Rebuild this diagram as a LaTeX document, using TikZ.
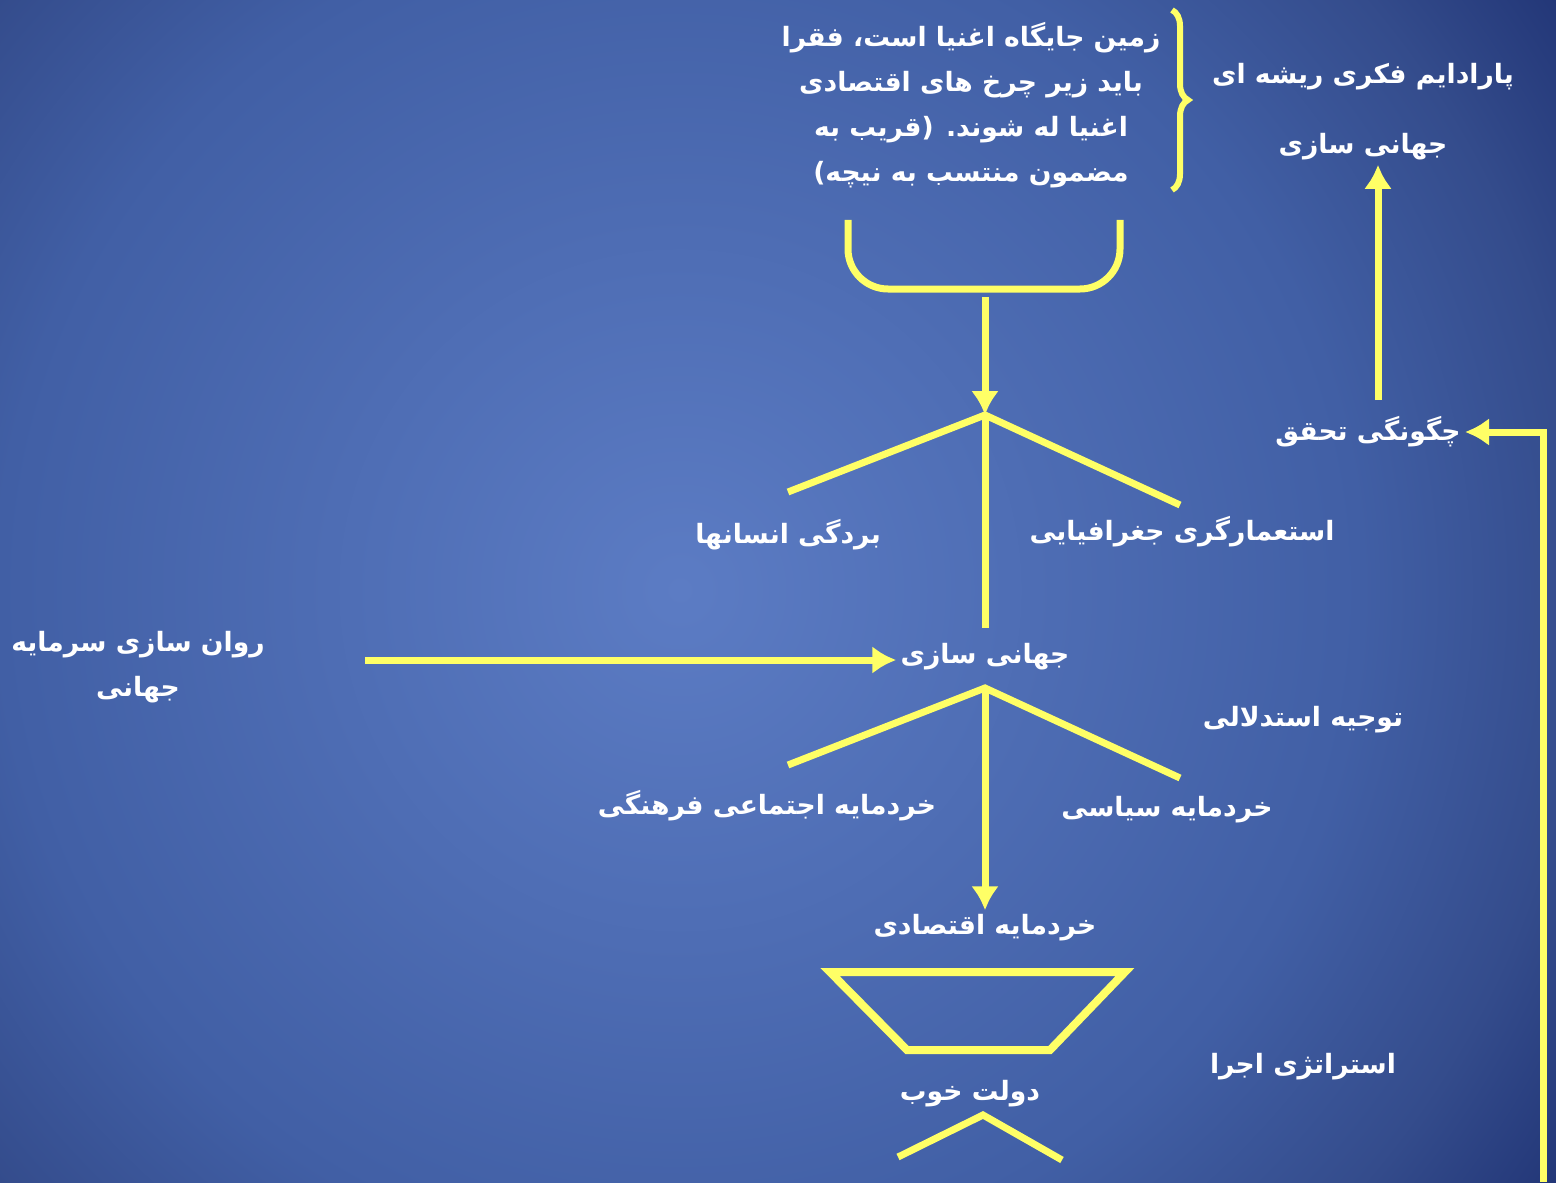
\documentclass[tikz,border=0pt]{standalone}
\usepackage{fontspec}
\usepackage{tikz}
\usetikzlibrary{arrows.meta,positioning,decorations.pathreplacing}
\TeXXeTstate=1
\newfontfamily\arabicfont[Script=Arabic]{DejaVu Sans}
\definecolor{bgA}{RGB}{92,124,196}
\definecolor{bgB}{RGB}{65,95,165}
\definecolor{bgC}{RGB}{52,76,140}
\definecolor{bgD}{RGB}{35,55,120}
\definecolor{bgE}{RGB}{32,50,114}
\definecolor{ppyellow}{RGB}{255,255,102}
\pgfdeclareradialshading{slidebg}{\pgfpoint{0bp}{0bp}}{color(0bp)=(bgA); color(15.5bp)=(bgB); color(20.5bp)=(bgC); color(24bp)=(bgD); color(25bp)=(bgE); color(50bp)=(bgE)}
\newcommand{\fa}[1]{\beginR #1\endR}
\tikzstyle{farsi} = [text=white, font=\arabicfont\bfseries\fontsize{13.3}{22.5}\selectfont, align=center, inner sep=2pt]
\tikzstyle{arrow} = [line width=3.5pt, -{Latex[length=12pt,width=14pt]}, color=ppyellow]
\tikzstyle{branch} = [line width=3.5pt, color=ppyellow]

\begin{document}
\begin{tikzpicture}[x=0.5pt, y=-0.5pt]
\useasboundingbox (0,0) rectangle (1556,1182);
% background
\begin{scope}
\clip (0,0) rectangle (1556,1182);
\shade[shading=slidebg] (680-1100,590-1100) rectangle (680+1100,590+1100);
\end{scope}

% Top quotation and paradigm
\node (quote) [farsi] at (971,105) {\fa{زمین جایگاه اغنیا است، فقرا}\\ \fa{باید زیر چرخ های اقتصادی}\\ \fa{اغنیا له شوند. (قریب به}\\ \fa{مضمون منتسب به نیچه)}};
\node (paradigm) [farsi] at (1363,77) {\fa{پارادایم فکری ریشه ای}};
\node (globetop) [farsi] at (1363,147) {\fa{جهانی سازی}};
\draw[branch, line width=3pt, decorate, decoration={brace, amplitude=8pt}] (1172,10) -- (1172,190);

% Cup above the first branch
\draw[branch, rounded corners=20pt] (848,220) -- (848,289) -- (1120,289) -- (1120,220);

% How it is realised
\node (howto) [farsi] at (1368,432) {\fa{چگونگی تحقق}};
\coordinate (upfoot) at (1378,400);
\draw[arrow] (upfoot) -- (upfoot |- globetop.south);
\coordinate (loopfoot) at (1543,1182);
\draw[arrow] (loopfoot) |- (howto.east);

% First branching
\coordinate (cupbot) at (985,297);
\coordinate (peakA) at (985,415);
\coordinate (legAl) at (788,492);
\coordinate (legAr) at (1180,505);
\coordinate (stemA) at (985,628);
\draw[arrow] (cupbot) -- (peakA);
\draw[branch] (legAl) -- (peakA) -- (legAr);
\draw[branch] (peakA) -- (stemA);
\node (slavery) [farsi] at (788,535) {\fa{بردگی انسانها}};
\node (colonial) [farsi] at (1182,532) {\fa{استعمارگری جغرافیایی}};

% Globalisation
\node (globe) [farsi] at (985,657) {\fa{جهانی سازی}};
\node (capital) [farsi] at (138,667) {\fa{روان سازی سرمایه}\\ \fa{جهانی}};
\coordinate (capstart) at (365,660);
\draw[arrow] (capstart) -- (capstart -| globe.west);
\node (reason) [farsi] at (1303,720) {\fa{توجیه استدلالی}};

% Second branching
\coordinate (peakB) at (985,688);
\coordinate (legBl) at (788,765);
\coordinate (legBr) at (1180,778);
\draw[branch] (legBl) -- (peakB) -- (legBr);
\node (social) [farsi] at (767,806) {\fa{خردمایه اجتماعی فرهنگی}};
\node (political) [farsi] at (1167,810) {\fa{خردمایه سیاسی}};
\node (economic) [farsi] at (985,928) {\fa{خردمایه اقتصادی}};
\draw[arrow] (peakB) -- (economic.north);

% Funnel and good government
\draw[branch, line width=4pt] (830,972) -- (1125,972) -- (1050,1050) -- (907,1050) -- cycle;
\node (govern) [farsi] at (970,1094) {\fa{دولت خوب}};
\draw[branch] (898,1157) -- (983,1115) -- (1062,1160);
\node (strategy) [farsi] at (1303,1067) {\fa{استراتژی اجرا}};
\end{tikzpicture}
\end{document}
